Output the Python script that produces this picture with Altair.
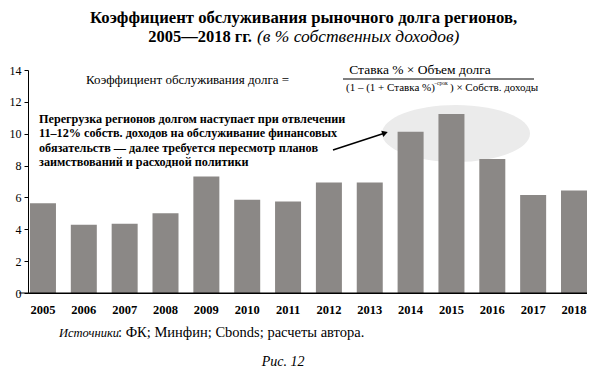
import altair as alt
import pandas as pd

years = ["2005", "2006", "2007", "2008", "2009", "2010", "2011",
         "2012", "2013", "2014", "2015", "2016", "2017", "2018"]
values = [5.63, 4.28, 4.34, 5.01, 7.31, 5.85, 5.74,
          6.94, 6.94, 10.13, 11.24, 8.42, 6.16, 6.43]
y_ticks = [0, 2, 4, 6, 8, 10, 12, 14]

title_line1 = "Коэффициент обслуживания рыночного долга регионов,"
title_line2_bold = "2005—2018 гг."
title_line2_italic = "(в % собственных доходов)"
formula_left = "Коэффициент обслуживания долга ="
formula_num = "Ставка % × Объем долга"
formula_den1 = "(1 – (1 + Ставка %)"
formula_sup = "−срок"
formula_den2 = ") × Собств. доходы"
note_lines = [
    "Перегрузка регионов долгом наступает при отвлечении",
    "11–12% собств. доходов на обслуживание финансовых",
    "обязательств — далее требуется пересмотр  планов",
    "заимствований и расходной политики",
]
source_italic = "Источники"
source_rest = ": ФК; Минфин; Cbonds; расчеты автора."
fig_label = "Рис. 12"

FONT = "Liberation Serif"
LEFT, TOP = 20, 62          # chart padding
W, H = 559, 223             # plot area
OX, OY = 8 + LEFT, 8 + TOP  # page position of plot origin


def P(x):
    return x - OX


def Q(y):
    return y - OY


df = pd.DataFrame({"year": years, "value": values})

bars = alt.Chart(df).mark_bar(color="#8b8886").encode(
    x=alt.X("year:N", sort=years,
            scale=alt.Scale(paddingInner=0.3635, paddingOuter=0.024, align=1),
            axis=alt.Axis(title=None, labelAngle=0, ticks=False, tickSize=0,
                          labelPadding=10, labelFontWeight="bold",
                          labelFontSize=12.5, domainColor="black",
                          labelColor="black", labelFont=FONT)),
    y=alt.Y("value:Q", scale=alt.Scale(domain=[0, 14], nice=False),
            axis=alt.Axis(title=None, values=y_ticks, grid=False, tickSize=4,
                          tickColor="black", domainColor="black",
                          labelFontSize=12, labelPadding=3, labelColor="black",
                          labelFont=FONT)),
)


def txt(s, x, y, size=13, weight="normal", style="normal", align="left", baseline="middle"):
    return alt.Chart(pd.DataFrame({"t": [s]})).mark_text(
        font=FONT, fontSize=size, fontWeight=weight, fontStyle=style,
        align=align, baseline=baseline, color="black"
    ).encode(text="t:N", x=alt.value(P(x)), y=alt.value(Q(y)))


one = pd.DataFrame({"k": [0]})
ellipse_path = "M-1,0A1,0.385,0,1,0,1,0A1,0.385,0,1,0,-1,0Z"
ellipse = alt.Chart(one).mark_point(
    shape=ellipse_path, filled=True, color="#ebebeb", opacity=1, size=21904, strokeWidth=0
).encode(x=alt.value(P(456)), y=alt.value(Q(133.5)))

frac_line = alt.Chart(one).mark_rule(color="black", strokeWidth=1).encode(
    x=alt.value(P(343)), x2=alt.value(P(534)), y=alt.value(Q(79)))

arrow_line = alt.Chart(one).mark_rule(color="black", strokeWidth=1.5).encode(
    x=alt.value(P(333)), y=alt.value(Q(150)), x2=alt.value(P(385)), y2=alt.value(Q(133)))
arrow_head = alt.Chart(one).mark_point(
    shape="triangle-right", filled=True, color="black", opacity=1, size=45, angle=342
).encode(x=alt.value(P(385)), y=alt.value(Q(133)))

axis_ext = alt.Chart(one).mark_rule(color="black", strokeWidth=1).encode(
    x=alt.value(P(19)), x2=alt.value(W), y=alt.value(H))

layers = [ellipse, bars, axis_ext,
          txt(title_line1, 303.5, 18, size=16.7, weight="bold", align="center"),
          txt(title_line2_bold, 252, 37, size=16.5, weight="bold", align="right"),
          txt(title_line2_italic, 257, 37, size=17.5, style="italic", align="left"),
          txt(formula_left, 86, 80, size=13),
          txt(formula_num, 420, 70, size=13.5, align="center"),
          frac_line,
          txt(formula_den1, 346, 88, size=11, align="left"),
          txt(formula_sup, 434, 83, size=5.5, align="left"),
          txt(formula_den2, 450, 88, size=11, align="left"),
          arrow_line, arrow_head,
          txt(source_italic, 59, 333, size=12.5, style="italic", align="left"),
          txt(source_rest, 118, 333, size=14.5, align="left"),
          txt(fig_label, 283, 362, size=14, style="italic", align="center"),
          ]
note_y = [118.5, 133, 147.5, 162]
for i, line in enumerate(note_lines):
    layers.append(txt(line, 39, note_y[i], size=12.2, weight="bold"))

chart = alt.layer(*layers).properties(
    width=W, height=H,
    padding={"left": LEFT, "top": TOP, "right": 0, "bottom": 82},
    autosize=alt.AutoSizeParams(type="none"),
).configure_view(stroke=None)

chart.save("out.html", embed_options={"renderer": "svg", "actions": False})
